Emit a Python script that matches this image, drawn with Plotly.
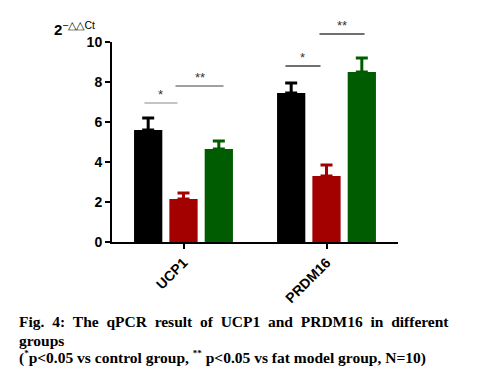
import plotly.graph_objects as go

categories = ["UCP1", "PRDM16"]
group_names = ["Control", "Fat model", "Treatment"]
group_colors = ["#000000", "#a30000", "#005c00"]
means = {
    "Control": [5.6, 7.45],
    "Fat model": [2.15, 3.3],
    "Treatment": [4.65, 8.5],
}
sems = {
    "Control": [0.6, 0.5],
    "Fat model": [0.3, 0.55],
    "Treatment": [0.4, 0.7],
}
y_ticks = [0, 2, 4, 6, 8, 10]

# significance brackets: (x0, x1, y, label, colour)
sig_marks = [
    (-0.273, -0.042, 6.95, "*", "#b0b0b0"),
    (-0.056, 0.28, 7.8, "**", "#808080"),
    (0.713, 0.958, 8.8, "*", "#404040"),
    (0.951, 1.266, 10.4, "**", "#404040"),
]

sup_small = '<sup><span style="font-size:9px">{}</span></sup>'
caption_lines = [
    "Fig. 4: The qPCR result of UCP1 and PRDM16 in different",
    "groups",
    "(" + sup_small.format("*") + "p&lt;0.05 vs control group, "
    + sup_small.format("**") + " p&lt;0.05 vs fat model group, N=10)",
]

x_pos = list(range(len(categories)))

fig = go.Figure()
for name, color in zip(group_names, group_colors):
    fig.add_trace(go.Bar(
        x=x_pos, y=means[name], name=name,
        marker=dict(color=color, line=dict(width=0)),
        error_y=dict(type="data", symmetric=False, array=sems[name],
                     arrayminus=[0] * len(categories),
                     color=color, thickness=3, width=6),
    ))

shapes = []
annotations = []
for x0, x1, yv, lab, col in sig_marks:
    shapes.append(dict(type="line", xref="x", yref="paper", x0=x0, x1=x1,
                       y0=yv / 10, y1=yv / 10, line=dict(color=col, width=1.5)))
    annotations.append(dict(xref="x", yref="paper", x=(x0 + x1) / 2, y=yv / 10,
                            text=lab, showarrow=False, yanchor="bottom", yshift=-1,
                            font=dict(family="Liberation Sans", size=13, color="#333")))

annotations.append(dict(xref="paper", yref="paper", x=-0.21, y=1.01, xanchor="left",
                        yanchor="bottom", showarrow=False,
                        text="<b>2</b><sup>−△△Ct</sup>",
                        font=dict(family="Liberation Sans", size=15, color="#000")))

cap_font = dict(family="Liberation Serif", size=15.5, color="#000")
line1 = caption_lines[0].replace(" ", " &nbsp;")
cap_y = [-0.395, -0.49, -0.575]
for txt, yy in zip([line1, caption_lines[1], caption_lines[2]], cap_y):
    annotations.append(dict(xref="paper", yref="paper", x=-0.332, y=yy, xanchor="left",
                            yanchor="middle", showarrow=False,
                            text="<b>" + txt + "</b>", font=cap_font))

# page body adds an 8px margin, so the figure is 8px smaller
fig.update_layout(
    width=473, height=366,
    margin=dict(l=104, r=83, t=34, b=132),
    plot_bgcolor="white", paper_bgcolor="white",
    barmode="group", bargap=0.259, bargroupgap=0.2,
    showlegend=False,
    shapes=shapes, annotations=annotations,
    xaxis=dict(range=[-0.5, 1.5], tickvals=x_pos, ticktext=categories,
               tickangle=-45, showline=True, linecolor="#000", linewidth=2,
               ticks="outside", ticklen=5, tickwidth=2, tickcolor="#000",
               showgrid=False, zeroline=False, automargin=False,
               tickfont=dict(family="Liberation Sans", size=14, color="#000", weight="bold")),
    yaxis=dict(range=[0, 10], tickvals=y_ticks, showline=True, linecolor="#000",
               linewidth=2, ticks="outside", ticklen=5, tickwidth=2, tickcolor="#000",
               showgrid=False, zeroline=False, automargin=False,
               tickfont=dict(family="Liberation Sans", size=14, color="#000", weight="bold")),
)

fig.write_html("out.html")
